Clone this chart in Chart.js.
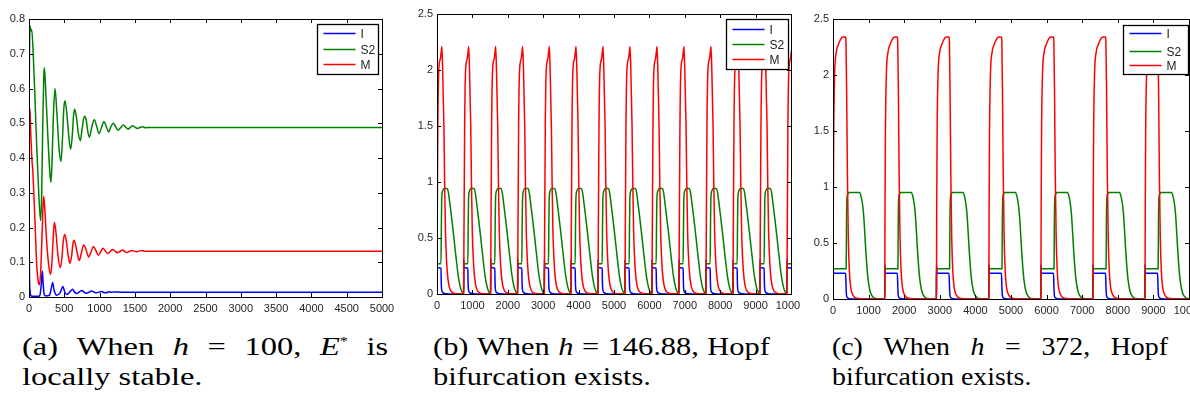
<!DOCTYPE html>
<html>
<head>
<meta charset="utf-8">
<script src="https://cdn.jsdelivr.net/npm/chart.js@4.4.1/dist/chart.umd.min.js"></script>
<style>
  body { margin: 0; background: #fff; width: 1190px; height: 398px; overflow: hidden; position: relative; }
  canvas { position: absolute; top: 0; }
  .cap { position: absolute; top: 332px; font-family: "Liberation Serif", "Times New Roman", serif; font-size: 26px; line-height: 30px; color: #000; transform-origin: 0 0; white-space: nowrap; }
  .cap .l1 { display: flex; justify-content: space-between; }
  .cap sup { font-size: 13px; vertical-align: 10px; line-height: 0; }
</style>
</head>
<body>
<canvas id="ca" width="400" height="320" style="left:0"></canvas>
<canvas id="cb" width="400" height="320" style="left:400px"></canvas>
<canvas id="cc" width="390" height="320" style="left:800px"></canvas>

<div class="cap" style="left:22px; transform: scaleX(1.25)"><div class="l1" style="width:293px"><span>(a)</span><span>When</span><i>h</i><span>=</span><span>100,</span><span><i>E</i><sup>*</sup></span><span>is</span></div><div>locally stable.</div></div>
<div class="cap" style="left:433px; transform: scaleX(1.17)"><div class="l1" style="width:288px"><span>(b)</span><span>When</span><i>h</i><span>=</span><span>146.88,</span><span>Hopf</span></div><div>bifurcation exists.</div></div>
<div class="cap" style="left:832px; transform: scaleX(1.07)"><div class="l1" style="width:314px"><span>(c)</span><span>When</span><i>h</i><span>=</span><span>372,</span><span>Hopf</span></div><div>bifurcation exists.</div></div>

<script>
// ---- panel (a): h = 100, damped oscillation to E* ----
const aI = [[0,0.17],[8,0.05],[20,0.008],[40,0.002],[140,0.002],[160,0.01],[175,0.04],[189,0.075],[200,0.04],[215,0.008],[240,0.003],[290,0.005],[315,0.025],[335,0.042],[355,0.02],[392,0.005],[440,0.012],[481,0.03],[505,0.015],[533,0.007],[580,0.015],[618,0.022],[645,0.014],[675,0.01],[715,0.015],[750,0.019],[785,0.013],[816,0.011],[850,0.014],[887,0.017],[920,0.014],[958,0.012],[990,0.014],[1024,0.016],[1060,0.013],[1095,0.0125],[1130,0.015],[1165,0.0135],[1200,0.0145],[1300,0.014],[5000,0.0135]];
const aS2 = [[0,0.55],[8,0.72],[15,0.78],[25,0.765],[38,0.77],[60,0.70],[85,0.57],[110,0.43],[140,0.29],[165,0.22],[180,0.30],[195,0.50],[210,0.64],[218,0.66],[240,0.58],[270,0.45],[295,0.36],[310,0.33],[325,0.38],[345,0.52],[368,0.60],[395,0.53],[425,0.43],[453,0.39],[475,0.46],[492,0.54],[510,0.565],[535,0.53],[560,0.47],[590,0.425],[615,0.47],[630,0.52],[647,0.54],[670,0.52],[700,0.47],[727,0.45],[750,0.48],[784,0.52],[810,0.51],[830,0.48],[854,0.46],[890,0.49],[925,0.51],[960,0.49],[991,0.47],[1030,0.49],[1062,0.505],[1095,0.49],[1128,0.475],[1160,0.49],[1194,0.50],[1227,0.49],[1260,0.48],[1300,0.488],[1336,0.495],[1370,0.489],[1402,0.483],[1435,0.488],[1468,0.493],[1500,0.489],[1534,0.485],[1572,0.488],[1610,0.49],[1650,0.487],[1700,0.488],[2000,0.488],[5000,0.488]];
const aM = [[0,0.42],[5,0.545],[15,0.53],[25,0.47],[40,0.40],[55,0.36],[70,0.29],[90,0.19],[110,0.09],[130,0.045],[146,0.035],[165,0.07],[185,0.18],[200,0.27],[208,0.29],[225,0.25],[250,0.16],[280,0.09],[307,0.065],[325,0.10],[345,0.18],[359,0.215],[380,0.19],[410,0.12],[444,0.085],[465,0.11],[485,0.16],[505,0.18],[530,0.16],[555,0.12],[580,0.097],[605,0.12],[620,0.15],[637,0.163],[660,0.15],[690,0.12],[713,0.105],[740,0.125],[774,0.15],[810,0.135],[845,0.115],[880,0.13],[911,0.145],[945,0.135],[982,0.12],[1015,0.13],[1048,0.14],[1080,0.133],[1114,0.125],[1150,0.131],[1185,0.137],[1220,0.132],[1251,0.127],[1290,0.131],[1322,0.135],[1355,0.131],[1388,0.128],[1420,0.131],[1458,0.134],[1490,0.132],[1524,0.13],[1560,0.132],[1595,0.134],[1640,0.132],[1700,0.132],[5000,0.132]];

const bOnsets = [-5, 753, 1515, 2278, 3031, 3785, 4548, 5310, 6073, 6835, 7598, 8361, 9123, 9885];
const bCycleI = [[0,0],[3,0.31],[10,0.235],[118,0.23],[124,0.12],[135,0.04],[170,0.012],[240,0.003],[740,0]];
const bCycleS2 = [[0,0],[4,0.27],[118,0.27],[128,0.6],[140,0.86],[165,0.92],[215,0.945],[295,0.94],[330,0.9],[360,0.83],[410,0.7],[455,0.58],[500,0.45],[545,0.32],[610,0.15],[670,0.055],[720,0.015],[740,0.005]];
const bCycleM = [[0,0],[8,0.5],[18,1.0],[28,1.5],[55,2.0],[100,2.1],[130,2.18],[142,2.21],[165,2.0],[200,1.5],[220,1.0],[245,0.55],[270,0.33],[300,0.18],[340,0.08],[390,0.03],[460,0.01],[560,0.002],[740,0]];

// ---- panel (c): h = 372 ----
const cOnsets = [0, 1453, 2905, 4377, 5839, 7301, 8763];
const cCycleI = [[0,0],[3,0.31],[15,0.23],[355,0.23],[368,0.1],[380,0.03],[420,0.008],[520,0.001],[1440,0]];
const cCycleS2 = [[0,0],[4,0.27],[370,0.27],[380,0.7],[392,0.9],[420,0.94],[450,0.95],[600,0.95],[750,0.95],[800,0.9],[840,0.82],[872,0.7],[918,0.45],[950,0.3],[984,0.18],[1050,0.06],[1150,0.01],[1250,0.003],[1440,0]];
const cCycleM = [[0,0],[8,0.8],[20,1.5],[45,2.0],[90,2.2],[150,2.27],[200,2.31],[270,2.34],[355,2.34],[365,2.3],[385,1.8],[405,1.1],[430,0.55],[460,0.25],[500,0.1],[560,0.035],[640,0.01],[800,0.002],[1440,0]];

const BLUE = '#0000ff', GREEN = '#008000', RED = '#ff0000';
const TICK_COLOR = '#262626';
const FONT = { family: '"Liberation Sans", Arial, sans-serif', size: 11 };

const pairs = arr => arr.map(([x, y]) => ({ x, y }));
const repeatCycle = (onsets, cycle) => {
    const pts = [];
    onsets.forEach(o => cycle.forEach(([dt, v]) => pts.push({ x: o + dt, y: v })));
    return pts;
};
// matlab prints 1000 and 1, not 1,000 and 1.0
const plainNum = v => String(Math.round(v * 1000) / 1000);

// matlab style box with inward ticks on all four sides
const framePlugin = {
    id: 'frame',
    afterDraw(chart) {
        const { ctx, chartArea: a, scales: { x, y } } = chart;
        ctx.save();
        ctx.strokeStyle = '#000';
        ctx.lineWidth = 1;
        ctx.beginPath();
        x.ticks.forEach(t => {
            const px = Math.round(x.getPixelForValue(t.value)) + 0.5;
            ctx.moveTo(px, a.bottom); ctx.lineTo(px, a.bottom - 4);
            ctx.moveTo(px, a.top); ctx.lineTo(px, a.top + 4);
        });
        y.ticks.forEach(t => {
            const py = Math.round(y.getPixelForValue(t.value)) + 0.5;
            ctx.moveTo(a.left, py); ctx.lineTo(a.left + 4, py);
            ctx.moveTo(a.right, py); ctx.lineTo(a.right - 4, py);
        });
        ctx.stroke();
        ctx.strokeRect(Math.round(a.left) + 0.5, Math.round(a.top) + 0.5, Math.round(a.width), Math.round(a.height));
        ctx.restore();
    },
};

const boxLegendPlugin = {
    id: 'boxLegend',
    afterDraw(chart, _args, o) {
        const { ctx, chartArea: a } = chart;
        const bx = Math.round(a.right - o.dx) + 0.5;
        const by = Math.round(a.top + o.dy) + 0.5;
        ctx.save();
        ctx.fillStyle = '#fff';
        ctx.fillRect(bx, by, o.w, o.h);
        ctx.strokeStyle = '#000';
        ctx.lineWidth = 1.3;
        ctx.strokeRect(bx, by, o.w, o.h);
        ctx.font = '12px "Liberation Sans", Arial, sans-serif';
        ctx.textBaseline = 'middle';
        const items = [...chart.data.datasets].reverse();
        items.forEach((ds, i) => {
            const yy = by + o.rows[i];
            ctx.strokeStyle = ds.borderColor;
            ctx.lineWidth = 1.5;
            ctx.beginPath();
            ctx.moveTo(bx + 6, yy); ctx.lineTo(bx + 38, yy);
            ctx.stroke();
            ctx.fillStyle = '#222';
            ctx.fillText(ds.label, bx + 43, yy + 1);
        });
        ctx.restore();
    },
};

function drawPanel(canvasId, series, opt) {
    const ctx = document.getElementById(canvasId).getContext('2d');
    const line = (label, data, color) => ({
        label, data, borderColor: color, borderWidth: 1.5, pointRadius: 0,
        cubicInterpolationMode: 'monotone', fill: false,
    });
    return new Chart(ctx, {
        type: 'line',
        data: {
            // first dataset is painted last, so M ends up on top
            datasets: [line('M', series.M, RED), line('S2', series.S2, GREEN), line('I', series.I, BLUE)],
        },
        plugins: [framePlugin, boxLegendPlugin],
        options: {
            responsive: false,
            animation: false,
            devicePixelRatio: 1,
            layout: { padding: { top: opt.top, right: opt.right, left: 0, bottom: 0 } },
            plugins: {
                legend: { display: false },
                tooltip: { enabled: false },
                boxLegend: opt.legend,
            },
            scales: {
                x: {
                    type: 'linear', min: 0, max: opt.xMax,
                    grid: { display: false, drawTicks: false }, border: { display: false },
                    ticks: { stepSize: opt.xStep, padding: 5, maxRotation: 0, autoSkip: false, color: TICK_COLOR, font: FONT, callback: plainNum },
                    afterFit: s => { s.height = opt.xH; s.paddingLeft = 0; s.paddingRight = 0; },
                },
                y: {
                    min: 0, max: opt.yMax,
                    grid: { display: false, drawTicks: false }, border: { display: false },
                    ticks: { stepSize: opt.yStep, padding: 4, color: TICK_COLOR, font: FONT, callback: plainNum },
                    afterFit: s => { s.width = opt.yW; s.paddingTop = 0; s.paddingBottom = 0; },
                },
            },
        },
    });
}

drawPanel('ca', { I: pairs(aI), S2: pairs(aS2), M: pairs(aM) }, {
    xMax: 5000, xStep: 500, yMax: 0.8, yStep: 0.1,
    yW: 29, xH: 23, top: 19, right: 18,
    legend: { dx: 65, dy: 5, w: 61, h: 50, rows: [9, 25, 40] },
});
drawPanel('cb', { I: repeatCycle(bOnsets, bCycleI), S2: repeatCycle(bOnsets, bCycleS2), M: repeatCycle(bOnsets, bCycleM) }, {
    xMax: 10000, xStep: 1000, yMax: 2.5, yStep: 0.5,
    yW: 37, xH: 26, top: 14, right: 9,
    legend: { dx: 65, dy: 5, w: 62, h: 50, rows: [10, 25, 40] },
});
drawPanel('cc', { I: repeatCycle(cOnsets, cCycleI), S2: repeatCycle(cOnsets, cCycleS2), M: repeatCycle(cOnsets, cCycleM) }, {
    xMax: 10000, xStep: 1000, yMax: 2.5, yStep: 0.5,
    yW: 33, xH: 21, top: 19, right: 1,
    legend: { dx: 66, dy: 6, w: 65, h: 49, rows: [8, 26, 40] },
});
</script>
</body>
</html>
